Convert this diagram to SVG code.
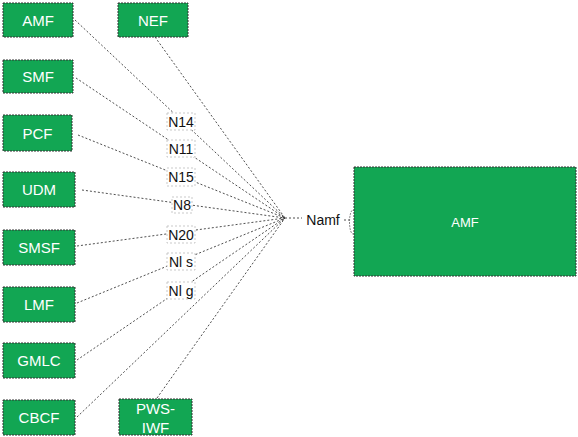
<svg xmlns="http://www.w3.org/2000/svg" width="578" height="437" viewBox="0 0 578 437">
<style>
.box{fill:#12a653;stroke:#333;stroke-width:1;stroke-dasharray:2,1}
.bt{font-family:"Liberation Sans",Arial,sans-serif;font-size:15px;fill:#fff;text-anchor:middle;dominant-baseline:central}
.ln{stroke:#222;stroke-width:0.8;stroke-dasharray:2,2;fill:none}
.lb{fill:#fff;stroke:#bbb;stroke-width:0.8;stroke-dasharray:2,2}
.lt{font-family:"Liberation Sans",Arial,sans-serif;font-size:14px;fill:#111;text-anchor:middle;dominant-baseline:central}
</style>
<g id="connectors">
<line class="ln" x1="75" y1="20" x2="285" y2="218"/>
<line class="ln" x1="155" y1="37" x2="285" y2="218"/>
<line class="ln" x1="76" y1="78" x2="285" y2="218"/>
<line class="ln" x1="78" y1="135" x2="285" y2="218"/>
<line class="ln" x1="82" y1="190" x2="285" y2="218"/>
<line class="ln" x1="77" y1="246" x2="285" y2="218"/>
<line class="ln" x1="77" y1="303" x2="285" y2="218"/>
<line class="ln" x1="77" y1="360" x2="285" y2="218"/>
<line class="ln" x1="77" y1="417" x2="285" y2="218"/>
<line class="ln" x1="157" y1="398" x2="285" y2="218"/>
<line class="ln" x1="285" y1="218" x2="302" y2="218"/>
<line class="ln" x1="344" y1="220" x2="350" y2="220"/>
<ellipse cx="353" cy="222" rx="3.5" ry="12" fill="#fff" stroke="#666" stroke-width="0.8" stroke-dasharray="2,1"/>
</g>
<g id="lbl-N14"><rect class="lb" x="167" y="113" width="28" height="17"/><text class="lt" x="181" y="121.5">N14</text></g>
<g id="lbl-N11"><rect class="lb" x="167" y="140" width="28" height="17"/><text class="lt" x="181" y="148.5">N11</text></g>
<g id="lbl-N15"><rect class="lb" x="167" y="168" width="28" height="18"/><text class="lt" x="181" y="177">N15</text></g>
<g id="lbl-N8"><rect class="lb" x="172" y="197" width="20" height="16"/><text class="lt" x="182" y="205">N8</text></g>
<g id="lbl-N20"><rect class="lb" x="167" y="226" width="28" height="17"/><text class="lt" x="181" y="234.5">N20</text></g>
<g id="lbl-Nls"><rect class="lb" x="167" y="253" width="28" height="17"/><text class="lt" x="181" y="261.5">Nl s</text></g>
<g id="lbl-Nlg"><rect class="lb" x="167" y="282" width="28" height="17"/><text class="lt" x="181" y="290.5">Nl g</text></g>
<g id="lbl-Namf"><text class="lt" x="323" y="220">Namf</text></g>
<g id="n-amf"><rect class="box" x="3" y="3" width="70" height="34"/><text class="bt" x="38" y="20">AMF</text></g>
<g id="n-nef"><rect class="box" x="118" y="3" width="70" height="34"/><text class="bt" x="153" y="20">NEF</text></g>
<g id="n-smf"><rect class="box" x="3" y="60" width="70" height="33"/><text class="bt" x="38" y="76.5">SMF</text></g>
<g id="n-pcf"><rect class="box" x="3" y="115" width="69" height="36"/><text class="bt" x="37.5" y="133">PCF</text></g>
<g id="n-udm"><rect class="box" x="3" y="172" width="72" height="35"/><text class="bt" x="39" y="189.5">UDM</text></g>
<g id="n-smsf"><rect class="box" x="3" y="230" width="72" height="35"/><text class="bt" x="39" y="247.5">SMSF</text></g>
<g id="n-lmf"><rect class="box" x="3" y="287" width="72" height="35"/><text class="bt" x="39" y="304.5">LMF</text></g>
<g id="n-gmlc"><rect class="box" x="3" y="343" width="72" height="35"/><text class="bt" x="39" y="360.5">GMLC</text></g>
<g id="n-cbcf"><rect class="box" x="3" y="400" width="72" height="35"/><text class="bt" x="39" y="417.5">CBCF</text></g>
<g id="n-pws"><rect class="box" x="119" y="399" width="73" height="36"/><text class="bt" x="155.5" y="408">PWS-</text><text class="bt" x="155.5" y="427">IWF</text></g>
<g id="n-amf-big"><rect class="box" x="354" y="167" width="222" height="109"/><text class="bt" x="465" y="222" style="font-size:13px">AMF</text></g>
</svg>
